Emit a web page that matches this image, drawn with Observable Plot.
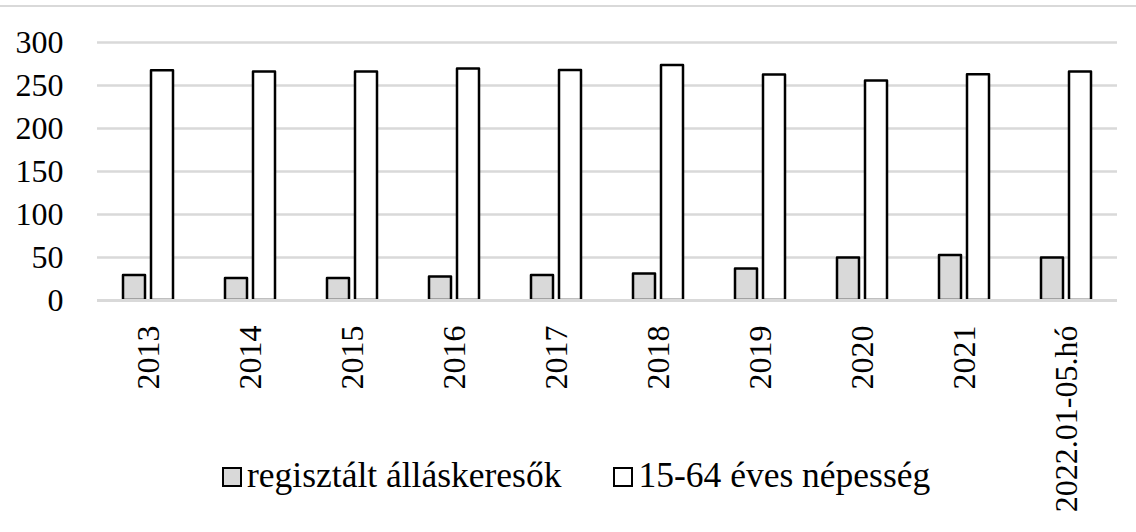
<!DOCTYPE html>
<html><head><meta charset="utf-8">
<script src="https://cdn.jsdelivr.net/npm/d3@7"></script>
<script src="https://cdn.jsdelivr.net/npm/@observablehq/plot@0.6"></script>
<style>
body{margin:0;background:#fff;}
#wrap{position:relative;width:1136px;height:532px;overflow:hidden;font-family:"Liberation Serif","Times New Roman",serif;}
#topline{position:absolute;left:0;top:5px;width:1136px;height:2px;background:#d9d9d9;}
#legend{position:absolute;left:222px;top:458px;display:flex;font-size:35.5px;line-height:35px;color:#000;white-space:nowrap;}
.item{display:flex;align-items:flex-start;}
.sw{width:16px;height:16px;border:2px solid #000;margin-top:9px;margin-right:5px;box-sizing:content-box;}
</style></head>
<body>
<div id="wrap"><div id="topline"></div><div id="chart"></div><div id="legend"></div></div>
<script>
const years = ["2013","2014","2015","2016","2017","2018","2019","2020","2021","2022.01-05.hó"];
const seriesNames = ["regisztált álláskeresők","15-64 éves népesség"];
const jobseekers = [29.2, 25.7, 25.7, 27.3, 29.2, 30.8, 36.6, 49.4, 52.4, 49.4];
const population = [267.2, 265.6, 265.6, 269.1, 267.5, 273.3, 262.2, 255.1, 262.5, 265.6];
const yTicks = [0, 50, 100, 150, 200, 250, 300];
const seriesColors = ["#d9d9d9", "#ffffff"];

const data = years.flatMap((yr, i) => [
  {year: yr, series: seriesNames[0], value: jobseekers[i]},
  {year: yr, series: seriesNames[1], value: population[i]}
]);

const chart = Plot.plot({
  width: 1136, height: 532,
  marginTop: 42, marginBottom: 232, marginLeft: 96, marginRight: 18,
  style: {fontFamily: '"Liberation Serif","Times New Roman",serif', fontSize: "32px", color: "#000", background: "transparent", overflow: "visible"},
  fx: {domain: years, paddingInner: 0, paddingOuter: 0, label: null},
  x: {domain: seriesNames, paddingInner: 0.216, paddingOuter: 0.888, axis: null},
  y: {domain: [0, 300], axis: null},
  color: {domain: seriesNames, range: seriesColors},
  marks: [
    Plot.ruleY(yTicks, {stroke: "#d9d9d9", strokeWidth: 2.5, strokeOpacity: 1}),
    Plot.barY(data, {fx: "year", x: "series", y: "value", fill: "series", stroke: "#000", strokeWidth: 2.5, strokeLinejoin: "round"}),
    Plot.ruleY([0], {stroke: "#d9d9d9", strokeWidth: 3, strokeOpacity: 1}),
    Plot.axisY({ticks: yTicks, tickSize: 0, tickPadding: 34, fontSize: 32, label: null}),
    Plot.axisFx({anchor: "bottom", tickRotate: -90, tickSize: 0, tickPadding: 25, fontSize: 32, label: null})
  ]
});
document.getElementById("chart").appendChild(chart);

const legend = document.getElementById("legend");
seriesNames.forEach((name, i) => {
  const item = document.createElement("div");
  item.className = "item";
  if (i > 0) item.style.marginLeft = "52px";
  const sw = document.createElement("div");
  sw.className = "sw";
  sw.style.background = seriesColors[i];
  const label = document.createElement("span");
  label.textContent = name;
  item.appendChild(sw);
  item.appendChild(label);
  legend.appendChild(item);
});
</script>
</body></html>
